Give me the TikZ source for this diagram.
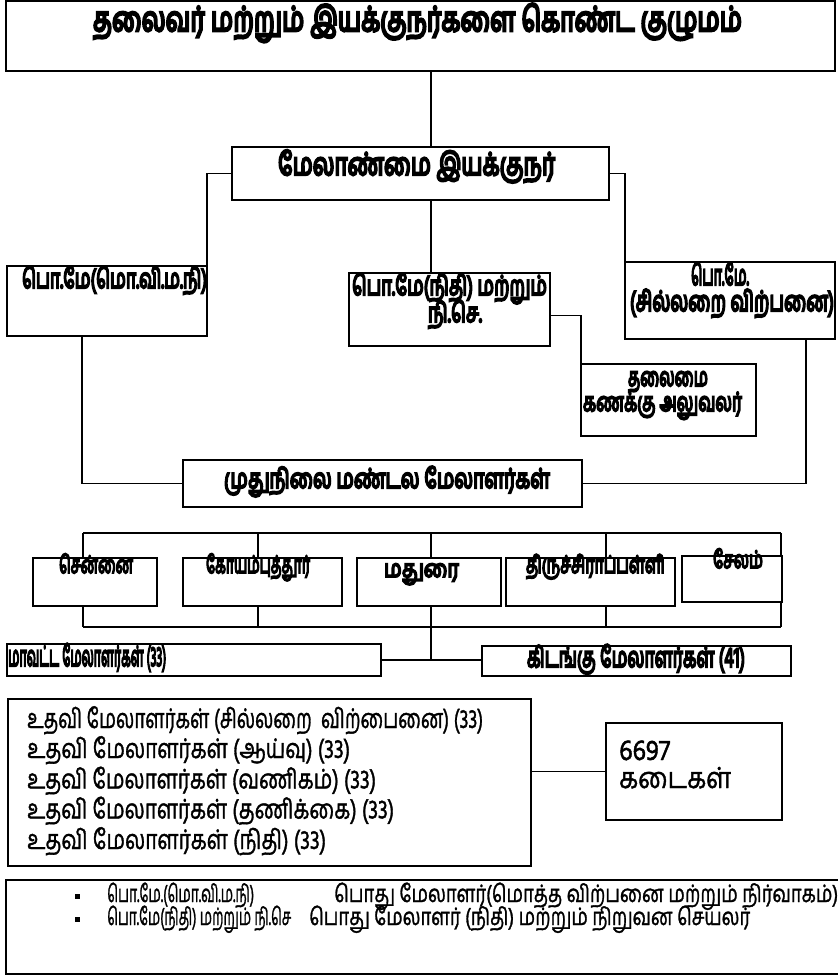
\documentclass[tikz,border=0pt]{standalone}
\usepackage{fontspec}
\usepackage{graphicx}
\newfontfamily\ta[Script=Tamil,FakeBold=1.5]{Hind Madurai}
\newfontfamily\tab[Script=Tamil,FakeBold=8]{Hind Madurai}
\newcommand\fitw[2]{\resizebox{#1pt}{\height}{#2}}
\newcommand\fs[1]{\fontsize{#1pt}{#1pt}\selectfont}
\begin{document}
\begin{tikzpicture}[x=1pt,y=-1pt,
  box/.style={draw, line width=1.6pt, inner sep=0pt, outer sep=0pt, anchor=north west},
  conn/.style={line width=1.1pt},
  bt/.style={inner sep=0pt, anchor=base},
  btw/.style={inner sep=0pt, anchor=base west}]
\useasboundingbox (0,0) rectangle (837,976);
\fill[white] (0,0) rectangle (837,976);
% boxes
\node[box, minimum width=829pt, minimum height=70pt] (top) at (6,1) {};
\node[box, minimum width=377pt, minimum height=53pt] (md) at (232,147) {};
\node[box, minimum width=200pt, minimum height=70pt] (lb) at (7,266) {};
\node[box, minimum width=201pt, minimum height=73pt] (mb) at (349,273) {};
\node[box, minimum width=210pt, minimum height=77pt] (rb) at (625,262) {};
\node[box, minimum width=175pt, minimum height=72pt] (hb) at (581,364) {};
\node[box, minimum width=399pt, minimum height=47pt] (mg) at (183,460) {};
\node[box, minimum width=124pt, minimum height=48pt] (c1) at (33,558) {};
\node[box, minimum width=159pt, minimum height=48pt] (c2) at (183,558) {};
\node[box, minimum width=144pt, minimum height=48pt] (c3) at (357,558) {};
\node[box, minimum width=169pt, minimum height=48pt] (c4) at (506,558) {};
\node[box, minimum width=100pt, minimum height=46pt] (c5) at (682,556) {};
\node[box, minimum width=374pt, minimum height=32pt] (dm) at (7,644) {};
\node[box, minimum width=309pt, minimum height=30pt] (kd) at (482,646) {};
\node[box, minimum width=523pt, minimum height=167pt] (ub) at (8,699) {};
\node[box, minimum width=176pt, minimum height=97pt] (sh) at (606,723) {};
\node[box, minimum width=840pt, minimum height=94pt] (lg) at (6,880) {};
% helper coordinates
\coordinate (sp) at (431,0);
\coordinate (dL) at (82,0);
\coordinate (dR) at (806,0);
\coordinate (d1) at (83,0);
\coordinate (d2) at (258,0);
\coordinate (d3) at (431,0);
\coordinate (d4) at (606,0);
\coordinate (d5) at (781,0);
\coordinate (bt) at (0,533);
\coordinate (bb) at (0,627);
% connectors
\draw[conn] (top.south -| sp) -- (md.north -| sp);
\draw[conn] (md.west) -| (lb.north east);
\draw[conn] (md.east) -| (rb.north west);
\draw[conn] (md.south -| sp) -- (mb.north -| sp);
\draw[conn] ([yshift=-6pt]mb.east) -| (hb.north west);
\draw[conn] (lb.south -| dL) |- (mg.west);
\draw[conn] (rb.south -| dR) |- (mg.east);
\draw[conn] (d1 |- bt) -- (d5 |- bt);
\foreach \i in {1,...,5} \draw[conn] (d\i |- bt) -- (c\i.north -| d\i);
\draw[conn] (d1 |- bb) -- (d5 |- bb);
\foreach \i in {1,...,5} \draw[conn] (c\i.south -| d\i) -- (d\i |- bb);
\draw[conn] (d3 |- bb) -- (d3 |- dm.east);
\draw[conn] (dm.east) -- (dm.east -| kd.west);
\draw[conn] (sh.west -| ub.east) -- (sh.west);
% texts (bold)
\begin{scope}[every node/.append style={font=\tab}]
\node[bt] (t0) at (417.5,31) {\fs{34}\fitw{649}{தலைவர் மற்றும் இயக்குநர்களை கொண்ட குழுமம்}};
\node[bt] (t1) at (416.5,175) {\fs{31}\fitw{277}{மேலாண்மை இயக்குநர்}};
\node[bt] (t2) at (114.5,288) {\fs{27}\fitw{185}{பொ.மே(மொ.வி.ம.நி)}};
\node[bt] (t3a) at (449.5,295) {\fs{27}\fitw{195}{பொ.மே(நிதி) மற்றும்}};
\node[bt] (t3b) at (455,322) {\fs{27}\fitw{54}{நி.செ.}};
\node[bt] (t4a) at (720,285) {\fs{28}\fitw{58}{பொ.மே.}};
\node[bt] (t4b) at (732,311) {\fs{28}\fitw{204}{(சில்லறை விற்பனை)}};
\node[bt] (t5a) at (668,386) {\fs{26}\fitw{80}{தலைமை}};
\node[bt] (t5b) at (662.5,411) {\fs{26}\fitw{159}{கணக்கு அலுவலர்}};
\node[bt] (t6) at (387,488) {\fs{27}\fitw{326}{முதுநிலை மண்டல மேலாளர்கள்}};
\node[bt] (c1t) at (96,573) {\fs{24}\fitw{74}{சென்னை}};
\node[bt] (c2t) at (258,573) {\fs{24}\fitw{104}{கோயம்புத்தூர்}};
\node[bt] (c3t) at (421.5,577) {\fs{24}\fitw{75}{மதுரை}};
\node[bt] (c4t) at (595.5,573) {\fs{24}\fitw{139}{திருச்சிராப்பள்ளி}};
\node[bt] (c5t) at (738,568) {\fs{24}\fitw{50}{சேலம்}};
\node[btw] (dmt) at (8,666) {\fs{28}\fitw{158}{மாவட்ட மேலாளர்கள் (33)}};
\node[bt] (kdt) at (636,667) {\fs{28}\fitw{218}{கிடங்கு மேலாளர்கள் (41)}};
\end{scope}
% texts (regular)
\begin{scope}[every node/.append style={font=\ta}]
\node[btw] (u1) at (27,728) {\fs{27}\fitw{456}{உதவி மேலாளர்கள் (சில்லறை\ \ விற்பைனை) (33)}};
\node[btw] (u2) at (27,758) {\fs{27}\fitw{323}{உதவி மேலாளர்கள் (ஆய்வு) (33)}};
\node[btw] (u3) at (27,788.5) {\fs{27}\fitw{349}{உதவி மேலாளர்கள் (வணிகம்) (33)}};
\node[btw] (u4) at (27,818.5) {\fs{27}\fitw{367}{உதவி மேலாளர்கள் (தணிக்கை) (33)}};
\node[btw] (u5) at (27,849) {\fs{27}\fitw{299}{உதவி மேலாளர்கள் (நிதி) (33)}};
\node[btw] (s1) at (619,760) {\fs{29}\fitw{51}{6697}};
\node[btw] (s2) at (619,788) {\fs{29}\fitw{112}{கடைகள்}};
\node[btw] (l1a) at (107,902) {\fs{24}\fitw{147}{பொ.மே.(மொ.வி.ம.நி)}};
\node[btw] (l1b) at (334,902) {\fs{24}\fitw{504}{பொது மேலாளர்(மொத்த விற்பனை மற்றும் நிர்வாகம்)}};
\node[btw] (l2a) at (107,925) {\fs{24}\fitw{184}{பொ.மே(நிதி) மற்றும் நி.செ}};
\node[btw] (l2b) at (309,925) {\fs{24}\fitw{441}{பொது மேலாளர் (நிதி) மற்றும் நிறுவன செயலர்}};
\end{scope}
\node[fill, inner sep=0pt, minimum size=5pt] (b1) at (77,896) {};
\node[fill, inner sep=0pt, minimum size=5pt] (b2) at (77,919) {};
\end{tikzpicture}
\end{document}
